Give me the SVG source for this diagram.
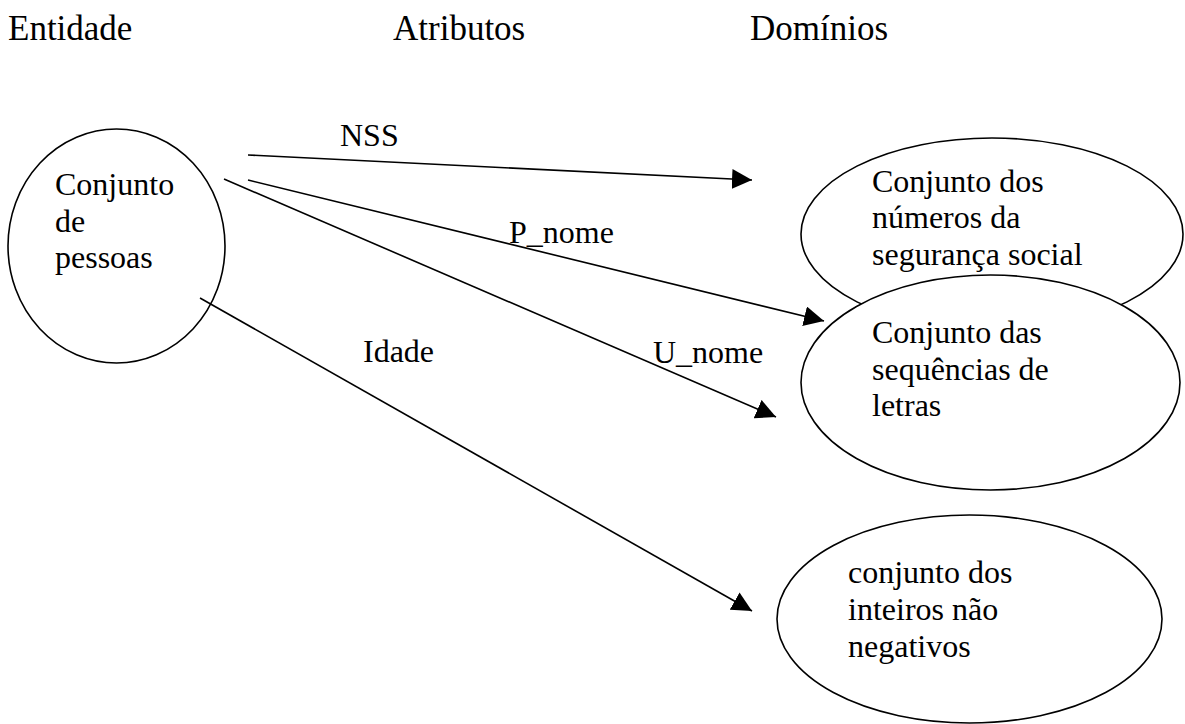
<svg xmlns="http://www.w3.org/2000/svg" width="1185" height="724" viewBox="0 0 1185 724">
<style>
.hdr { font-size: 35px; fill: #000; }
.lbl { font-size: 32px; fill: #000; }
.node ellipse { fill: #fff; stroke: #000; stroke-width: 1.6; }
.conn line { stroke: #000; stroke-width: 1.6; marker-end: url(#arr); }
</style>
<defs>
<marker id="arr" markerUnits="userSpaceOnUse" markerWidth="20" markerHeight="20" refX="20" refY="10" orient="auto">
<path d="M0,0 L20,10 L0,20 Z" fill="#000"/>
</marker>
</defs>
<rect width="1185" height="724" fill="#fff"/>
<g id="headers" font-family="Times New Roman, Liberation Serif, serif">
<text class="hdr" x="8" y="40">Entidade</text>
<text class="hdr" x="393" y="40">Atributos</text>
<text class="hdr" x="750" y="40">Domínios</text>
</g>
<g id="pessoas" class="node" font-family="Times New Roman, Liberation Serif, serif">
<ellipse cx="116.5" cy="246" rx="108.5" ry="117"/>
<text class="lbl" x="55" y="195">Conjunto</text>
<text class="lbl" x="55" y="232">de</text>
<text class="lbl" x="55" y="268">pessoas</text>
</g>
<g id="nss-dominio" class="node" font-family="Times New Roman, Liberation Serif, serif">
<ellipse cx="992" cy="234" rx="191" ry="96"/>
<text class="lbl" x="872" y="192">Conjunto dos</text>
<text class="lbl" x="872" y="228">números da</text>
<text class="lbl" x="872" y="265">segurança social</text>
</g>
<g id="letras-dominio" class="node" font-family="Times New Roman, Liberation Serif, serif">
<ellipse cx="990.5" cy="382.5" rx="189.5" ry="107.5"/>
<text class="lbl" x="872" y="343">Conjunto das</text>
<text class="lbl" x="872" y="380">sequências de</text>
<text class="lbl" x="872" y="416">letras</text>
</g>
<g id="inteiros-dominio" class="node" font-family="Times New Roman, Liberation Serif, serif">
<ellipse cx="969.5" cy="619" rx="192.5" ry="104"/>
<text class="lbl" x="848" y="583">conjunto dos</text>
<text class="lbl" x="848" y="620">inteiros não</text>
<text class="lbl" x="848" y="657">negativos</text>
</g>
<g id="connectors" class="conn">
<line x1="248" y1="155" x2="752" y2="180"/>
<line x1="248" y1="180" x2="824" y2="321"/>
<line x1="224" y1="179" x2="776" y2="417"/>
<line x1="200" y1="298" x2="752" y2="611"/>
</g>
<g id="labels" font-family="Times New Roman, Liberation Serif, serif">
<text class="lbl" x="340" y="146">NSS</text>
<text class="lbl" x="509" y="243">P_nome</text>
<text class="lbl" x="653" y="363">U_nome</text>
<text class="lbl" x="363" y="362">Idade</text>
</g>
</svg>
